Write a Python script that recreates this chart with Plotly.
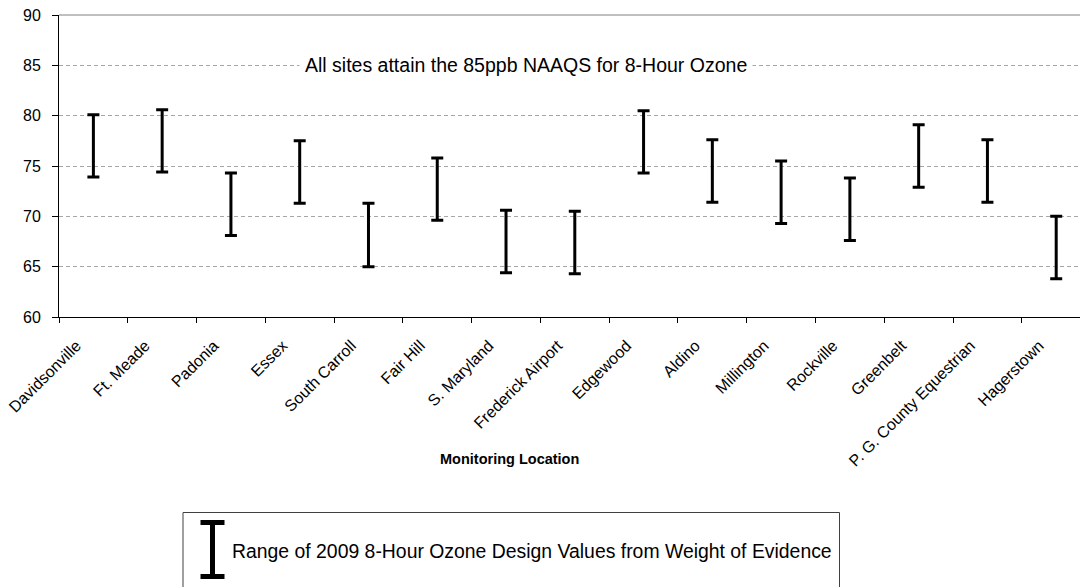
import plotly.graph_objects as go

sites = ["Davidsonville", "Ft. Meade", "Padonia", "Essex", "South Carroll", "Fair Hill",
         "S. Maryland", "Frederick Airport", "Edgewood", "Aldino", "Millington", "Rockville",
         "Greenbelt", "P. G. County Equestrian", "Hagerstown"]
low_values = [73.9, 74.4, 68.1, 71.3, 65.0, 69.6, 64.4, 64.3, 74.3, 71.4, 69.3, 67.6, 72.9, 71.4, 63.8]
high_values = [80.1, 80.6, 74.3, 77.5, 71.3, 75.8, 70.6, 70.5, 80.5, 77.6, 75.5, 73.8, 79.1, 77.6, 70.0]
y_ticks = [60, 65, 70, 75, 80, 85, 90]

FONT = "Liberation Sans, Arial, sans-serif"

span = [h - l for h, l in zip(high_values, low_values)]

fig = go.Figure()
fig.add_trace(go.Scatter(
    x=sites, y=low_values, mode="markers",
    marker=dict(size=1, opacity=0),
    error_y=dict(type="data", symmetric=False, array=span, arrayminus=[0] * len(span),
                 color="black", thickness=3, width=6),
    showlegend=False, hoverinfo="skip",
))

W, H = 1080, 587
L, R, T, B = 59, 0, 15, 270
pw, ph = W - L - R, H - T - B

def px(x):
    return (x - L) / pw

def py(y):
    return (H - B - y) / ph

fig.update_layout(
    width=W, height=H,
    margin=dict(l=L, r=R, t=T, b=B),
    paper_bgcolor="white", plot_bgcolor="white",
    font=dict(family=FONT, size=16, color="black"),
    xaxis=dict(
        type="category", range=[-0.5, 14.346], tickson="boundaries",
        ticks="outside", ticklen=5, tickcolor="black", tickwidth=1,
        showline=True, linecolor="black", linewidth=1, showgrid=False,
        tickangle=-45, tickfont=dict(size=16),
        ticklabelstandoff=12, ticklabelshift=-17,
    ),
    yaxis=dict(
        range=[60, 90], tickvals=y_ticks, ticks="outside", ticklen=6, tickcolor="black",
        showline=True, linecolor="black", linewidth=1,
        showgrid=True, gridcolor="#a6a6a6", griddash="4px,3px", gridwidth=1,
        zeroline=False, tickfont=dict(size=16), ticklabelstandoff=8,
    ),
    shapes=[
        dict(type="line", xref="paper", yref="paper", x0=0, x1=1, y0=1, y1=1,
             line=dict(color="#808080", width=1)),
        dict(type="rect", xref="paper", yref="paper", x0=px(183), x1=px(839.5),
             y0=py(512.5), y1=py(600), line=dict(color="#404040", width=1),
             fillcolor="rgba(0,0,0,0)"),
        dict(type="line", xref="paper", yref="paper", x0=px(212.5), x1=px(212.5),
             y0=py(522), y1=py(577), line=dict(color="black", width=5)),
        dict(type="line", xref="paper", yref="paper", x0=px(200.5), x1=px(224.5),
             y0=py(522.5), y1=py(522.5), line=dict(color="black", width=5)),
        dict(type="line", xref="paper", yref="paper", x0=px(200.5), x1=px(224.5),
             y0=py(576.5), y1=py(576.5), line=dict(color="black", width=5)),
    ],
    annotations=[
        dict(text="All sites attain the 85ppb NAAQS for 8-Hour Ozone", xref="paper", yref="y",
             x=px(526), y=85, showarrow=False, bgcolor="white", borderpad=5,
             font=dict(size=19.5), xanchor="center", yanchor="middle"),
        dict(text="<b>Monitoring Location</b>", xref="paper", yref="paper",
             x=px(509.5), y=py(459), showarrow=False, font=dict(size=14.5),
             xanchor="center", yanchor="middle"),
        dict(text="Range of 2009 8-Hour Ozone Design Values from Weight of Evidence",
             xref="paper", yref="paper", x=px(230), y=py(551), showarrow=False,
             font=dict(size=19.4), xanchor="left", yanchor="middle"),
    ],
)

fig.write_html("out.html", config={"displayModeBar": False},
               post_script="document.body.style.margin='0';")
